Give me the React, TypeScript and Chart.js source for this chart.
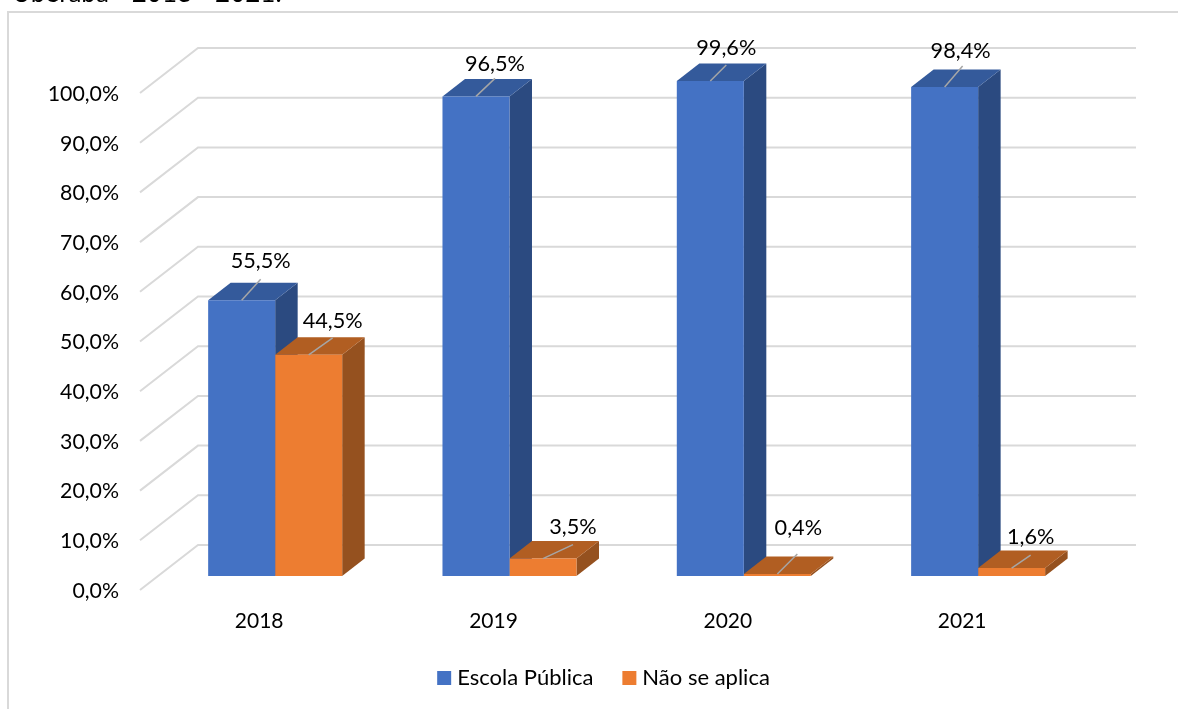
import React, { useEffect, useRef } from "react";
import { Chart, registerables } from "chart.js";

Chart.register(...registerables);

const categories = ["2018", "2019", "2020", "2021"];
const escolaPublica = [55.5, 96.5, 99.6, 98.4];
const naoSeAplica = [44.5, 3.5, 0.4, 1.6];
const seriesNames = ["Escola Pública", "Não se aplica"];
const captionText = "Uberaba - 2018 - 2021.";

const FONT = "Lato, Carlito, sans-serif";
const fmt = (v: number) => v.toFixed(1).replace(".", ",") + "%";

// Label offsets from each bar's top-centre, [dx of text, dy of text, leader dx, leader dy]
const labelOffsets = [
  [[19, -39, 19, -21], [24, -34, 24, -17]],
  [[19, -32, 19, -18], [30, -32, 30, -14]],
  [[16, -33, 16, -16], [21, -46, 20, -20]],
  [[16, -36, 18, -21], [19, -31, 19, -13]],
];

const faces = [
  { top: "#345a9b", side: "#2b4a80" },
  { top: "#b15e22", side: "#95511f" },
];

const DEPTH_X = 22.5;
const DEPTH_Y = 17.5;

const threeD = {
  id: "threeD",
  beforeDatasetsDraw(chart: any) {
    const { ctx } = chart;
    const y = chart.scales.y;
    ctx.save();
    ctx.strokeStyle = "#d9d9d9";
    ctx.lineWidth = 2;
    for (let v = 0; v <= 100; v += 10) {
      const p = y.getPixelForValue(v);
      ctx.beginPath();
      ctx.moveTo(140, p + 14);
      ctx.lineTo(198, p - 31);
      ctx.lineTo(1136, p - 31);
      ctx.stroke();
    }
    chart.data.datasets.forEach((_: any, di: number) => {
      chart.getDatasetMeta(di).data.forEach((bar: any) => {
        const l = bar.x - bar.width / 2;
        const r = bar.x + bar.width / 2;
        const t = bar.y;
        const b = bar.base;
        ctx.fillStyle = faces[di].side;
        ctx.beginPath();
        ctx.moveTo(r, t);
        ctx.lineTo(r + DEPTH_X, t - DEPTH_Y);
        ctx.lineTo(r + DEPTH_X, b - DEPTH_Y);
        ctx.lineTo(r, b);
        ctx.closePath();
        ctx.fill();
        ctx.fillStyle = faces[di].top;
        ctx.beginPath();
        ctx.moveTo(l, t);
        ctx.lineTo(l + DEPTH_X, t - DEPTH_Y);
        ctx.lineTo(r + DEPTH_X, t - DEPTH_Y);
        ctx.lineTo(r, t);
        ctx.closePath();
        ctx.fill();
      });
    });
    ctx.restore();
  },
  afterDatasetsDraw(chart: any) {
    const { ctx } = chart;
    ctx.save();
    ctx.font = `21.7px ${FONT}`;
    ctx.textAlign = "center";
    ctx.textBaseline = "middle";
    chart.data.datasets.forEach((ds: any, di: number) => {
      chart.getDatasetMeta(di).data.forEach((bar: any, i: number) => {
        const [tx, ty, lx, ly] = labelOffsets[i][di];
        ctx.strokeStyle = "#a6a6a6";
        ctx.lineWidth = 1.5;
        ctx.beginPath();
        ctx.moveTo(bar.x, bar.y);
        ctx.lineTo(bar.x + lx, bar.y + ly);
        ctx.stroke();
        ctx.fillStyle = "#000";
        ctx.fillText(fmt(ds.data[i]), bar.x + tx, bar.y + ty);
      });
    });
    ctx.textAlign = "left";
    ctx.font = `26px ${FONT}`;
    ctx.fillText(captionText, 12, -6);
    ctx.strokeStyle = "#d9d9d9";
    ctx.lineWidth = 2;
    ctx.beginPath();
    ctx.moveTo(8, 709);
    ctx.lineTo(8, 12);
    ctx.lineTo(1178, 12);
    ctx.stroke();
    ctx.restore();
  },
};

export default function App() {
  const ref = useRef<HTMLCanvasElement>(null);
  useEffect(() => {
    const chart = new Chart(ref.current!, {
      type: "bar",
      data: {
        labels: categories,
        datasets: [
          { label: seriesNames[0], data: escolaPublica, backgroundColor: "#4472c4" },
          { label: seriesNames[1], data: naoSeAplica, backgroundColor: "#ed7d31" },
        ],
      },
      plugins: [threeD],
      options: {
        animation: false,
        responsive: false,
        layout: { padding: { left: 34, right: 0, top: 79, bottom: 10 } },
        datasets: { bar: { barPercentage: 1, categoryPercentage: 134 / 234.3 } },
        plugins: {
          tooltip: { enabled: false },
          legend: {
            position: "bottom",
            labels: {
              usePointStyle: true,
              pointStyle: "rect",
              boxWidth: 4,
              boxHeight: 14,
              padding: 34,
              color: "#000",
              font: { family: FONT, size: 22 },
            },
          },
        },
        scales: {
          x: {
            grid: { display: false },
            border: { display: false },
            afterFit: (s: any) => { s.height = 57; },
            ticks: { color: "#000", font: { family: FONT, size: 21 }, padding: 25, labelOffset: -16, maxRotation: 0 },
          },
          y: {
            min: 0,
            max: 100,
            grid: { display: false },
            border: { display: false },
            afterFit: (s: any) => { s.width = 124; },
            ticks: {
              stepSize: 10,
              color: "#000",
              font: { family: FONT, size: 21.3 },
              padding: 31,
              labelOffset: 15,
              callback: (v: any) => fmt(Number(v)),
            },
          },
          yRight: {
            position: "right",
            grid: { display: false },
            border: { display: false },
            ticks: { display: false },
            afterFit: (s: any) => { s.width = 82.7; },
          },
        },
      },
    } as any);
    return () => chart.destroy();
  }, []);
  return (
    <canvas
      ref={ref}
      width={1178}
      height={709}
      style={{ position: "fixed", left: 0, top: 0, width: 1178, height: 709, background: "#fff" }}
    />
  );
}
